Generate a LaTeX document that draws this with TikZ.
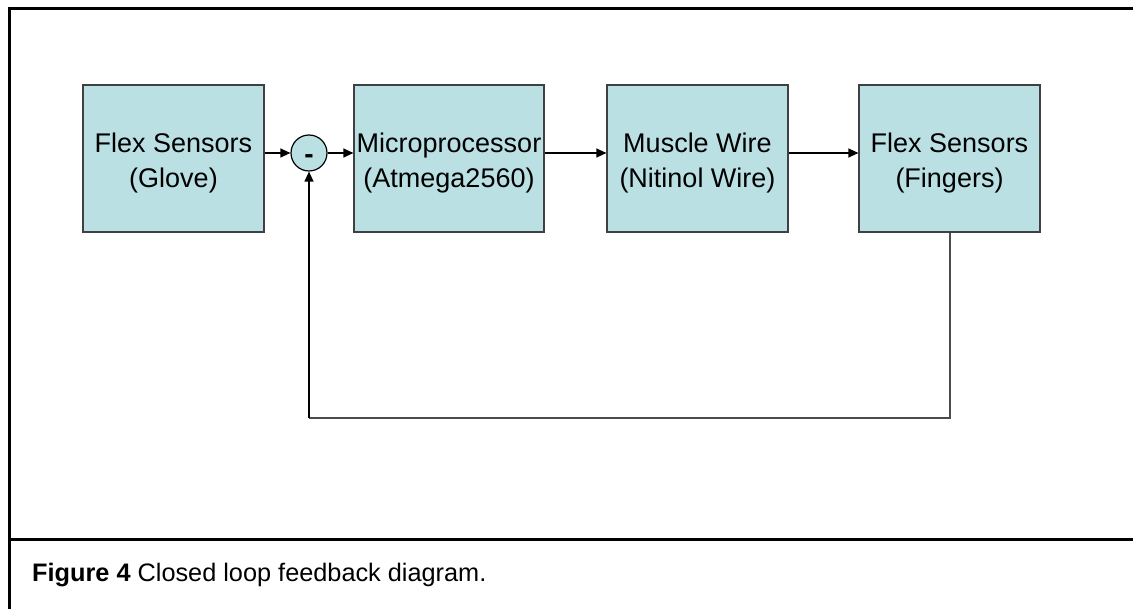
\documentclass[tikz,border=0pt]{standalone}
\usepackage{fontspec}
\setmainfont{Liberation Sans}
\usetikzlibrary{arrows.meta}
\definecolor{boxfill}{RGB}{187,224,227}
\definecolor{boxline}{RGB}{64,64,64}
\newcommand{\twolines}[2]{\raisebox{-10.75pt}[0pt][0pt]{\begin{tabular}{@{}c@{}}#1\\#2\end{tabular}}}
\begin{document}
\begin{tikzpicture}[x=1pt,y=-1pt,
  blk/.style={draw=boxline,line width=1.2pt,fill=boxfill,minimum width=181pt,minimum height=147pt,
    align=center,inner sep=0pt,font=\fontsize{27}{35}\selectfont},
  sumc/.style={circle,draw=black,line width=1.2pt,fill=boxfill,minimum size=36pt,inner sep=0pt,
    font=\fontsize{28}{30}\selectfont\bfseries},
  arr/.style={line width=1.2pt,-{Triangle[length=10pt,width=9pt]}},
  frame/.style={line width=3pt}]
\useasboundingbox (0,0) rectangle (1133,609);
\fill[white] (0,0) rectangle (1133,609);
\draw[frame] (9,609) -- (9,9) -- (1133,9);
\draw[frame] (9,539) -- (1133,539);
\node[blk] (b1) at (173.5,158.5) {\twolines{Flex Sensors}{(Glove)}};
\node[sumc] (s) at (309,153) {\raisebox{-11pt}[0pt][0pt]{-}};
\node[blk,minimum width=190pt] (b2) at (449,158.5) {\twolines{Microprocessor}{(Atmega2560)}};
\node[blk] (b3) at (697.5,158.5) {\twolines{Muscle Wire}{(Nitinol Wire)}};
\node[blk] (b4) at (949.5,158.5) {\twolines{Flex Sensors}{(Fingers)}};
\coordinate (c1) at (950,418);
\coordinate (c2) at (309,418);
\draw[arr] (b1.east |- s.center) -- (s.west);
\draw[arr] (s.east) -- (b2.west |- s.center);
\draw[arr] (b2.east |- s.center) -- (b3.west |- s.center);
\draw[arr] (b3.east |- s.center) -- (b4.west |- s.center);
\draw[line width=1.2pt,draw=black!70] (b4.south -| c1) -- (c1) -- (c2);
\draw[arr] (c2) -- (s.south);
\node[anchor=west,inner sep=0pt,font=\fontsize{25.3}{28}\selectfont] (cap) at (32,575) {\textbf{Figure 4} Closed loop feedback diagram.};
\end{tikzpicture}
\end{document}
